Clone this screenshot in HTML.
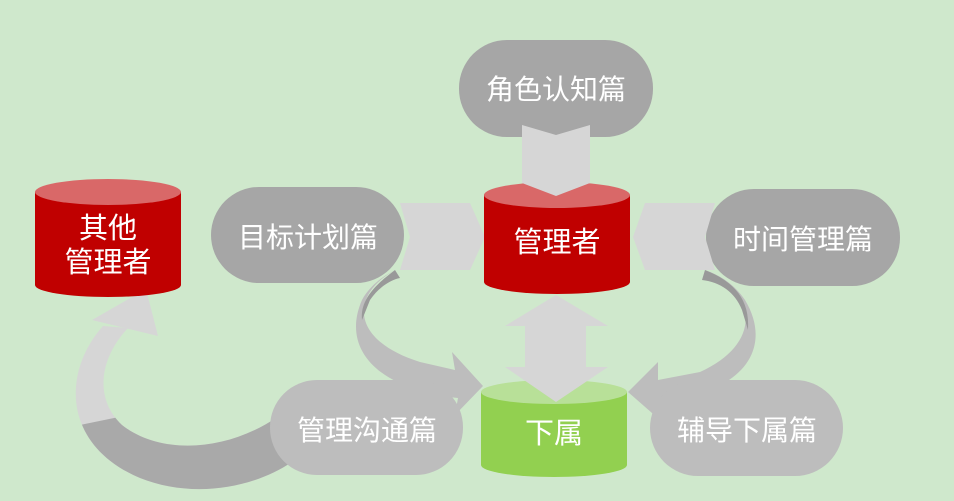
<!DOCTYPE html>
<html><head><meta charset="utf-8"><style>
html,body{margin:0;padding:0;background:#cfe8cc;}
svg{display:block}
text{font-family:"Liberation Sans","Noto Sans CJK SC",sans-serif;fill:#fff;text-anchor:middle;}
</style></head><body>
<svg width="954" height="501" viewBox="0 0 954 501" xmlns="http://www.w3.org/2000/svg">
<defs><clipPath id="lo"><path d="M80 425 L300 380 L300 501 L80 501 Z"/></clipPath></defs>
<rect width="954" height="501" fill="#cfe8cc"/>
<!-- big curved arrow bottom-left -->
<path id="band" d="M103 326 C62 372 62 445 140 478 C190 498 250 490 292 462 L276 418 C225 452 160 455 122 425 C95 400 98 360 128 328 Z" fill="#d6d6d6"/>
<path d="M146 289 L158 336 L92 320 Z" fill="#d6d6d6"/>
<path d="M103 326 C62 372 62 445 140 478 C190 498 250 490 292 462 L276 418 C225 452 160 455 122 425 C95 400 98 360 128 328 Z" fill="#a9a9a9" clip-path="url(#lo)"/>
<!-- curve from 目标计划篇 down to 下属 -->
<path d="M395 270 C350 295 350 340 420 362 L455 370 L452 352 L483 386 L455 415 L458 398 C380 390 340 350 362 300 C370 285 385 275 395 270 Z" fill="#bdbdbd"/>
<path d="M395 270 C375 285 360 300 362 320 L370 300 C378 288 390 280 400 278 Z" fill="#999"/>
<!-- curve from 时间管理篇 down to 下属 -->
<path d="M705 270 C760 295 760 345 700 372 L658 380 L658 362 L628 392 L660 420 L660 400 C740 395 775 350 745 300 C735 285 720 275 705 270 Z" fill="#bdbdbd"/>
<path d="M705 270 C735 282 750 300 748 330 L742 310 C735 292 720 282 702 280 Z" fill="#999"/>
<!-- pills -->
<rect x="459" y="40" width="194" height="97" rx="48" fill="#a6a6a6"/>
<rect x="211" y="187" width="193" height="96" rx="48" fill="#a6a6a6"/>
<rect x="706" y="189" width="194" height="97" rx="48" fill="#a6a6a6"/>
<rect x="270" y="380" width="193" height="95" rx="47" fill="#bdbdbd"/>
<rect x="650" y="380" width="193" height="96" rx="48" fill="#bdbdbd"/>
<!-- horizontal arrows -->
<path d="M400 203 L470 203 L485 237 L470 270 L400 270 L410 237 Z" fill="#d6d6d6"/>
<path d="M715 203 L645 203 L633 237 L645 270 L715 270 L705 237 Z" fill="#d6d6d6"/>
<!-- cylinders -->
<path d="M35 192 L181 192 L181 285 A73 12 0 0 1 35 285 Z" fill="#c00000"/>
<ellipse cx="108" cy="192" rx="73" ry="13" fill="#d96868"/>
<path d="M484 195 L630 195 L630 282 A73 12 0 0 1 484 282 Z" fill="#c00000"/>
<ellipse cx="557" cy="195" rx="73" ry="13" fill="#d96868"/>
<path d="M481 392 L627 392 L627 465 A73 12 0 0 1 481 465 Z" fill="#92d050"/>
<ellipse cx="554" cy="392" rx="73" ry="12" fill="#b8e098"/>
<!-- top down arrow -->
<path d="M522 125 L556 135 L590 125 L590 183 L556 196 L522 183 Z" fill="#d6d6d6"/>
<!-- vertical double arrow -->
<path d="M556 295 L608 326 L586 326 L586 367 L608 367 L556 402 L505 367 L525 367 L525 326 L505 326 Z" fill="#d6d6d6"/>
<!-- texts -->
<text x="556" y="99" font-size="28">角色认知篇</text>
<text x="308" y="247" font-size="28">目标计划篇</text>
<text x="803" y="249" font-size="28">时间管理篇</text>
<text x="367" y="440" font-size="28">管理沟通篇</text>
<text x="747" y="440" font-size="28">辅导下属篇</text>
<text x="557" y="252" font-size="29">管理者</text>
<text x="108" y="238" font-size="29">其他</text>
<text x="108" y="272" font-size="29">管理者</text>
<text x="554" y="443" font-size="29">下属</text>
</svg>
</body></html>
